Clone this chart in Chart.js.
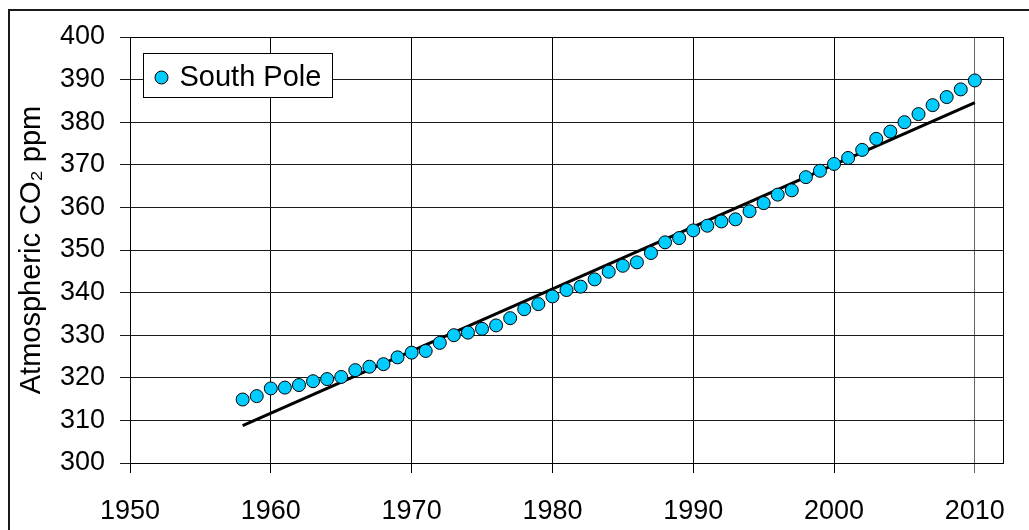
<!DOCTYPE html>
<html>
<head>
<meta charset="utf-8">
<script src="https://cdn.jsdelivr.net/npm/chart.js@4.4.1/dist/chart.umd.min.js"></script>
<style>
  html, body { margin: 0; padding: 0; background: #fff; }
  #wrap { width: 1029px; height: 530px; position: relative; }
</style>
</head>
<body>
<div id="wrap"><canvas id="chart"></canvas></div>
<script>
const years = [
  1958, 1959, 1960, 1961, 1962, 1963, 1964, 1965, 1966, 1967,
  1968, 1969, 1970, 1971, 1972, 1973, 1974, 1975, 1976, 1977,
  1978, 1979, 1980, 1981, 1982, 1983, 1984, 1985, 1986, 1987,
  1988, 1989, 1990, 1991, 1992, 1993, 1994, 1995, 1996, 1997,
  1998, 1999, 2000, 2001, 2002, 2003, 2004, 2005, 2006, 2007,
  2008, 2009, 2010
];
const southPole = [
  314.9, 315.7, 317.5, 317.7, 318.3, 319.2, 319.7, 320.2, 321.8, 322.6,
  323.2, 324.8, 325.9, 326.3, 328.2, 330.0, 330.6, 331.5, 332.3, 334.0,
  336.1, 337.3, 339.1, 340.6, 341.4, 343.1, 344.9, 346.3, 347.1, 349.3,
  351.8, 352.8, 354.6, 355.7, 356.7, 357.2, 359.1, 361.0, 363.0, 364.0,
  367.1, 368.6, 370.2, 371.6, 373.5, 376.1, 377.8, 380.0, 381.9, 384.0,
  385.9, 387.7, 389.8
];
const trendYears = [1958, 2010];
const trendValues = [308.8, 384.6];

const xTicks = [1950, 1960, 1970, 1980, 1990, 2000, 2010];
const yTicks = [300, 310, 320, 330, 340, 350, 360, 370, 380, 390, 400];

const seriesLabel = 'South Pole';
const yTitle = 'Atmospheric CO\u2082 ppm';

const FONT = "'Liberation Sans', Arial, sans-serif";
const DOT = '#00ccff';

// plot frame, outer border and the boxed legend inside the plot
const framePlugin = {
  id: 'frame',
  afterDatasetsDraw(chart) {
    const { ctx, chartArea: a } = chart;
    ctx.save();
    ctx.strokeStyle = '#000';
    ctx.lineWidth = 1;
    ctx.strokeRect(Math.round(a.left) + 0.5, Math.round(a.top) + 0.5,
      Math.round(a.right - a.left), Math.round(a.bottom - a.top));

    ctx.lineWidth = 2;
    ctx.strokeStyle = '#1a1a1a';
    ctx.strokeRect(9, 10, chart.width + 20, chart.height + 20);

    const ds = chart.data.datasets[0];
    const bx = Math.round(a.left) + 13.5, by = Math.round(a.top) + 16.5;
    ctx.fillStyle = '#fff';
    ctx.fillRect(bx, by, 189, 44);
    ctx.lineWidth = 1;
    ctx.strokeStyle = '#000';
    ctx.strokeRect(bx, by, 189, 44);
    ctx.beginPath();
    ctx.arc(bx + 18, by + 24, 6.5, 0, Math.PI * 2);
    ctx.fillStyle = ds.pointBackgroundColor;
    ctx.fill();
    ctx.stroke();
    ctx.fillStyle = '#000';
    ctx.font = '29px ' + FONT;
    ctx.textBaseline = 'middle';
    ctx.fillText(ds.label, bx + 36, by + 24);
    ctx.restore();
  }
};

new Chart(document.getElementById('chart'), {
  type: 'scatter',
  data: {
    datasets: [
      {
        label: seriesLabel,
        data: years.map((y, i) => ({ x: y, y: southPole[i] })),
        pointRadius: 6.5,
        pointBackgroundColor: DOT,
        pointBorderColor: '#000',
        pointBorderWidth: 1,
        showLine: false
      },
      {
        label: 'trend',
        data: trendYears.map((y, i) => ({ x: y, y: trendValues[i] })),
        showLine: true,
        borderColor: '#000',
        borderWidth: 3,
        pointRadius: 0
      }
    ]
  },
  options: {
    responsive: true,
    maintainAspectRatio: false,
    animation: false,
    layout: { padding: { top: 37, right: 26, left: 0, bottom: 0 } },
    plugins: {
      legend: { display: false },
      tooltip: { enabled: false }
    },
    scales: {
      x: {
        type: 'linear',
        min: 1950,
        max: 2012,
        afterBuildTicks: s => { s.ticks = xTicks.map(v => ({ value: v })); },
        afterFit: s => { s.height = 67; },
        grid: {
          color: c => (c.tick && c.tick.value === 2010 ? '#666' : '#000'),
          tickLength: 10
        },
        border: { color: '#000' },
        ticks: {
          color: '#000',
          font: { family: FONT, size: 27 },
          padding: 22,
          maxRotation: 0,
          callback: v => String(v)
        }
      },
      y: {
        min: 300,
        max: 400,
        afterBuildTicks: s => { s.ticks = yTicks.map(v => ({ value: v })); },
        afterFit: s => { s.width = 130; },
        grid: { color: '#1a1a1a', tickLength: 10 },
        border: { color: '#000' },
        ticks: {
          color: '#000',
          font: { family: FONT, size: 27 },
          padding: 15
        },
        title: {
          display: true,
          text: yTitle,
          color: '#000',
          font: { family: FONT, size: 29 },
          padding: { top: 15, bottom: 0 }
        }
      }
    }
  },
  plugins: [framePlugin]
});
</script>
</body>
</html>
